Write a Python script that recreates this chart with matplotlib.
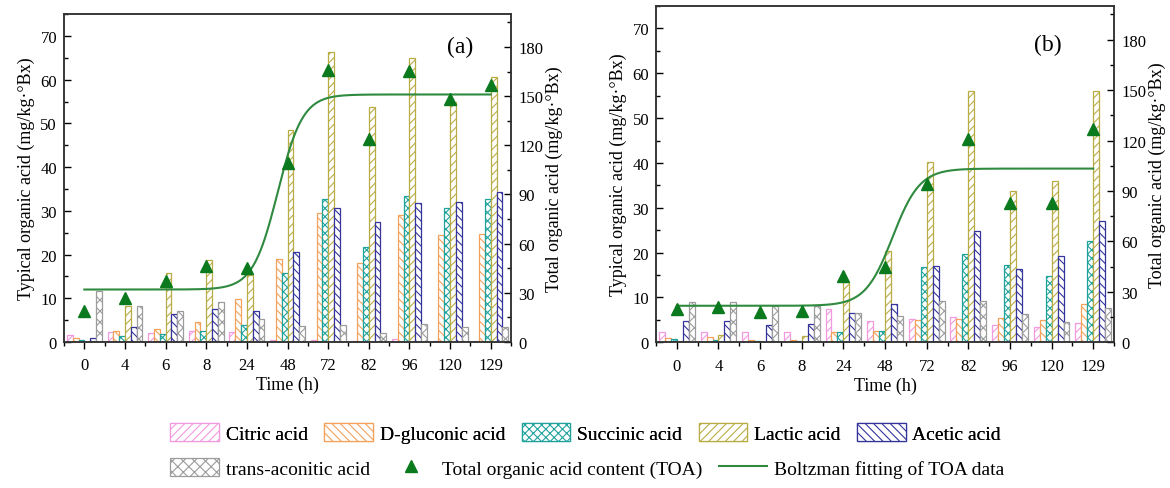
import matplotlib
matplotlib.use('Agg')
import matplotlib.pyplot as plt
import numpy as np
from matplotlib.patches import Patch
from matplotlib.lines import Line2D
from matplotlib.ticker import MultipleLocator

plt.rcParams['font.family'] = ['Liberation Serif', 'DejaVu Serif']
plt.rcParams['hatch.linewidth'] = 0.8

# ---------------- data ----------------
times = ['0', '4', '6', '8', '24', '48', '72', '82', '96', '120', '129']
acid_names = ['Citric acid', 'D-gluconic acid', 'Succinic acid', 'Lactic acid',
              'Acetic acid', 'trans-aconitic acid']

# panel (a)  (left axis, mg/kg.°Bx)
a_citric   = [1.7, 2.2, 2.1, 2.5, 2.2, 0.5, 0.5, 0.3, 0.6, 0.2, 0.2]
a_gluconic = [1.0, 2.4, 3.0, 4.5, 9.9, 18.9, 29.5, 18.0, 29.1, 24.4, 24.7]
a_succinic = [0.5, 1.4, 1.8, 2.4, 3.9, 15.7, 32.7, 21.8, 33.3, 30.7, 32.7]
a_lactic   = [0.0, 8.2, 15.8, 18.8, 15.3, 48.4, 66.3, 53.8, 65.0, 55.0, 60.6]
a_acetic   = [1.0, 3.4, 6.5, 7.6, 7.0, 20.5, 30.6, 27.4, 31.8, 32.0, 34.3]
a_trans    = [11.7, 8.3, 7.0, 9.1, 5.3, 3.7, 3.9, 2.0, 4.1, 3.4, 3.4]
# total organic acid (right axis)
a_toa      = [19.2, 26.8, 37.4, 46.6, 45.0, 109.0, 166.0, 124.0, 165.5, 148.0, 157.0]
# Boltzmann fit parameters (A1, A2, x0, dx) in category-index space
a_fit = (32.0, 151.0, 4.76, 0.307)

# panel (b)
b_citric   = [2.4, 2.2, 2.4, 2.2, 7.4, 4.8, 5.3, 5.6, 3.9, 3.3, 4.3]
b_gluconic = [1.0, 1.1, 0.5, 0.4, 2.4, 2.5, 5.0, 5.2, 5.5, 5.0, 8.5]
b_succinic = [0.7, 0.6, 0.2, 0.3, 2.2, 2.6, 16.8, 19.7, 17.3, 14.8, 22.6]
b_lactic   = [0.3, 1.6, 0.0, 1.3, 13.5, 20.3, 40.1, 56.0, 33.7, 36.0, 56.0]
b_acetic   = [4.8, 4.8, 3.9, 4.1, 6.5, 8.5, 17.1, 24.9, 16.3, 19.2, 27.1]
b_trans    = [8.9, 9.0, 8.2, 8.2, 6.5, 5.8, 9.1, 9.1, 6.3, 4.5, 7.6]
b_toa      = [19.8, 21.0, 18.2, 18.8, 39.2, 44.5, 94.4, 120.7, 83.0, 82.7, 127.0]
b_fit = (21.7, 103.3, 5.18, 0.327)

# ---------------- style ----------------
edge_colors = ['#f29ae0', '#f2a25a', '#1fa39c', '#b8ad45', '#34349c', '#9c9c9c']
hatches = ['////', '\\\\\\\\', 'xxxx', '////', '\\\\\\\\', 'xxx']
toa_color = '#0b7a1e'
fit_color = '#2f8a3f'
bar_w = 0.143


def panel(fig, rect, series, toa, fit, tag, tag_xy):
    ax = fig.add_axes(rect)
    idx = np.arange(len(times))
    for k, vals in enumerate(series):
        ax.bar(idx + (k - 3) * bar_w, vals, width=bar_w, align='edge',
               facecolor='white', edgecolor=edge_colors[k], hatch=hatches[k],
               linewidth=0.9, zorder=2)
    ax.set_xlim(-0.5, 10.5)
    ax.set_ylim(0, 75)
    ax.set_xticks(idx)
    ax.set_xticklabels(times)
    ax.xaxis.set_minor_locator(MultipleLocator(0.5))
    ax.yaxis.set_major_locator(MultipleLocator(10))
    ax.yaxis.set_minor_locator(MultipleLocator(5))
    ax.tick_params(axis='x', which='major', direction='out', length=5, width=1.0,
                   labelsize=12, pad=6)
    ax.tick_params(axis='x', which='minor', direction='out', length=3, width=1.0)
    ax.tick_params(axis='y', which='major', direction='in', length=5, width=1.0,
                   labelsize=12, pad=5)
    ax.tick_params(axis='y', which='minor', direction='in', length=3, width=1.0)
    ax.set_xlabel('Time (h)', fontsize=13, labelpad=2)
    ax.set_ylabel('Typical organic acid (mg/kg·°Bx)', fontsize=13, labelpad=4)
    for s in ax.spines.values():
        s.set_linewidth(1.1)
        s.set_color('#333333')

    ax2 = ax.twinx()
    ax2.set_ylim(0, 200)
    ax2.yaxis.set_major_locator(MultipleLocator(30))
    ax2.yaxis.set_minor_locator(MultipleLocator(15))
    ax2.tick_params(axis='y', which='major', direction='in', length=5, width=1.0,
                    labelsize=12, pad=5)
    ax2.tick_params(axis='y', which='minor', direction='in', length=3, width=1.0)
    ax2.set_ylabel('Total organic acid (mg/kg·°Bx)', fontsize=13, labelpad=2)
    for s in ax2.spines.values():
        s.set_linewidth(1.1)
        s.set_color('#333333')

    A1, A2, x0, dx = fit
    xs = np.linspace(0, len(times) - 1, 400)
    ys = A2 + (A1 - A2) / (1 + np.exp((xs - x0) / dx))
    ax2.plot(xs, ys, color=fit_color, lw=1.5, zorder=3)
    ax2.plot(idx, toa, linestyle='none', marker='^', markersize=8.5,
             color=toa_color, zorder=4)
    ax.text(tag_xy[0], tag_xy[1], tag, transform=ax.transAxes, fontsize=17,
            ha='center', va='center')
    return ax, ax2


fig = plt.figure(figsize=(11.7, 4.89), dpi=100)

a_series = [a_citric, a_gluconic, a_succinic, a_lactic, a_acetic, a_trans]
b_series = [b_citric, b_gluconic, b_succinic, b_lactic, b_acetic, b_trans]

panel(fig, [0.0547, 0.2986, 0.3821, 0.6704], a_series, a_toa, a_fit, '(a)',
      (0.887, 0.90))
panel(fig, [0.5607, 0.298, 0.3915, 0.6877], b_series, b_toa, b_fit, '(b)',
      (0.855, 0.885))

# ---------------- legends ----------------
h1 = [Patch(facecolor='white', edgecolor=edge_colors[k], hatch=hatches[k],
            linewidth=0.9) for k in range(5)]
leg1 = fig.legend(h1, acid_names[:5], loc='center left',
                  bbox_to_anchor=(0.139, 1 - 434 / 489), ncol=5, frameon=False,
                  fontsize=14, handlelength=2.5, handleheight=1.0,
                  handletextpad=0.35, columnspacing=0.85, borderaxespad=0)
h2 = [Patch(facecolor='white', edgecolor=edge_colors[5], hatch=hatches[5],
            linewidth=0.9),
      Line2D([], [], linestyle='none', marker='^', markersize=8.5, color=toa_color),
      Line2D([], [], color=fit_color, lw=1.5)]
l2 = ['trans-aconitic acid', 'Total organic acid content (TOA)',
      'Boltzman fitting of TOA data']
leg2 = fig.legend(h2, l2, loc='center left',
                  bbox_to_anchor=(0.139, 1 - 469 / 489), ncol=3, frameon=False,
                  fontsize=14, handlelength=2.5, handleheight=1.0,
                  handletextpad=0.35, columnspacing=0.85, borderaxespad=0)
fig.add_artist(leg1)

fig.savefig('out.png', dpi=100)
